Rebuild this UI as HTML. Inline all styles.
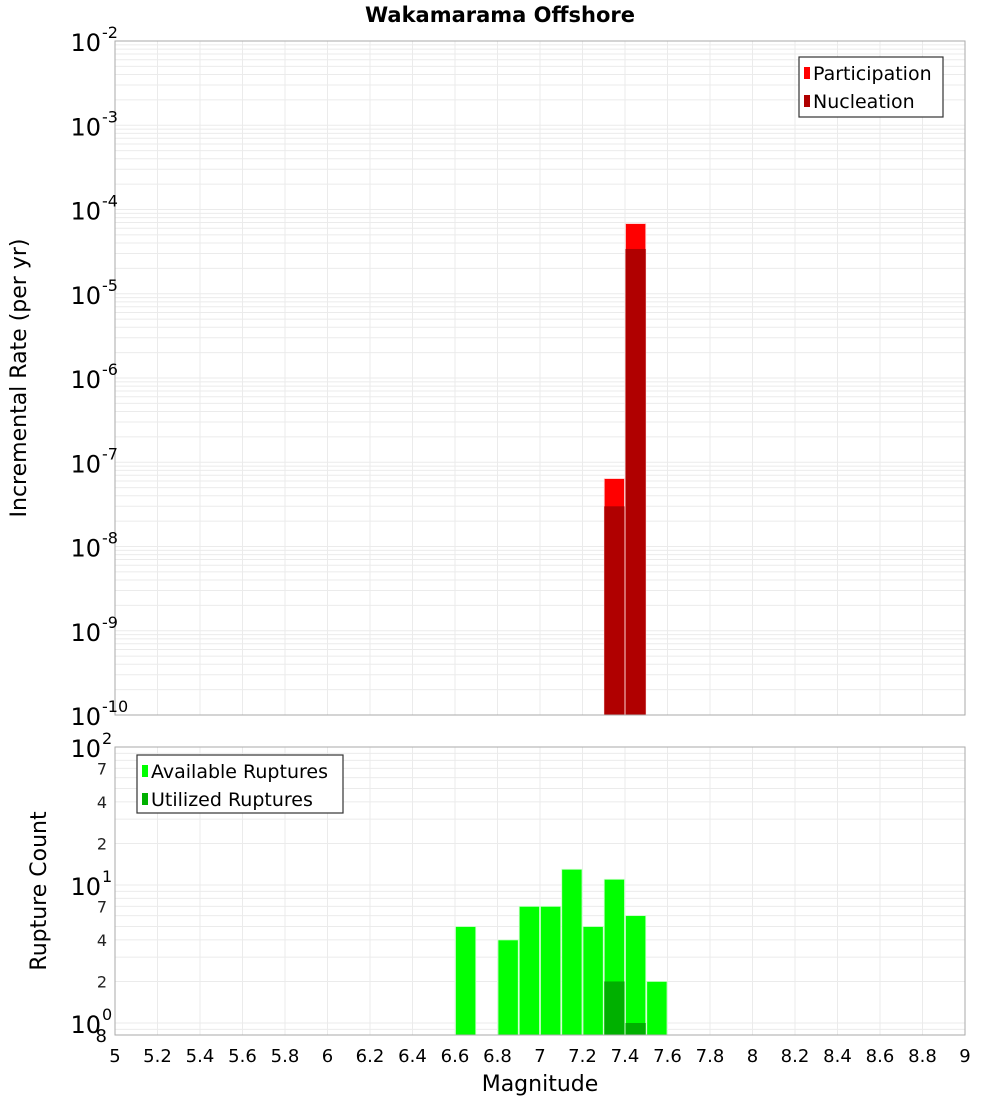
<!DOCTYPE html>
<html><head><meta charset="utf-8"><style>
body{margin:0;background:#fff;}
svg{display:block;font-family:"DejaVu Sans","Liberation Sans",sans-serif;}
</style></head><body>
<svg id="c" width="1000" height="1100" xmlns="http://www.w3.org/2000/svg"></svg>
<script>
// ---- data ----
const rateMags = [7.35, 7.45];
const participationRates = [6.4e-8, 6.8e-5];
const nucleationRates = [3.0e-8, 3.4e-5];
const countMags = [6.65, 6.85, 6.95, 7.05, 7.15, 7.25, 7.35, 7.45, 7.55];
const availableCounts = [5, 4, 7, 7, 13, 5, 11, 6, 2];
const utilizedMags = [7.35, 7.45];
const utilizedCounts = [2, 1];
const xTicks = [5,5.2,5.4,5.6,5.8,6,6.2,6.4,6.6,6.8,7,7.2,7.4,7.6,7.8,8,8.2,8.4,8.6,8.8,9];
const topExps = [-2,-3,-4,-5,-6,-7,-8,-9,-10];
const botMinor = [7,4,2];

const NS="http://www.w3.org/2000/svg";
const svg=document.getElementById('c');
function mk(tag,attrs,parent){const e=document.createElementNS(NS,tag);for(const k in attrs)e.setAttribute(k,attrs[k]);(parent||svg).appendChild(e);return e;}

const L=115,R=965;
const x=v=>L+(v-5)/(9-5)*(R-L);
const T1=41,B1=715;
const y1=v=>T1+(-2-Math.log10(v))/8*(B1-T1);
const T2=747,B2=1035,DEC=138;
const y2=v=>T2+(2-Math.log10(v))*DEC;

// title
let t=mk('text',{x:500,y:22,'text-anchor':'middle','font-size':21,'font-weight':'bold'});
t.textContent='Wakamarama Offshore';



// top plot grid
let g=mk('g',{});


for(let e=-10;e<-2;e++)for(let m=1;m<10;m++){const yy=y1(m*Math.pow(10,e));mk('line',{x1:L,x2:R,y1:yy,y2:yy,stroke:'#ebebeb','stroke-width':1},g);}
xTicks.forEach(v=>mk('line',{x1:x(v),x2:x(v),y1:T1,y2:B1,stroke:'#ebebeb'},g));
// bottom grid
let g2=mk('g',{});


for(let e=-1;e<2;e++)for(let m=1;m<10;m++){const yy=y2(m*Math.pow(10,e));if(yy<T2||yy>B2)continue;mk('line',{x1:L,x2:R,y1:yy,y2:yy,stroke:'#ebebeb'},g2);}
xTicks.forEach(v=>mk('line',{x1:x(v),x2:x(v),y1:T2,y2:B2,stroke:'#ebebeb'},g2));

// top bars
const bw=(x(0.1)-x(0));
rateMags.forEach((m,i)=>{
  let r=mk('rect',{x:x(m-0.05)+0.5,y:y1(participationRates[i]),width:bw-1,height:B1-y1(participationRates[i]),fill:'#ff0000',stroke:'#ffd0d0','stroke-width':0.8});
  
  
  let n=mk('rect',{x:x(m-0.05)+0.5,y:y1(nucleationRates[i]),width:bw-1,height:B1-y1(nucleationRates[i]),fill:'#b00000'});
  
  
});
// bottom bars
countMags.forEach((m,i)=>{
  let r=mk('rect',{x:x(m-0.05)+0.5,y:y2(availableCounts[i]),width:bw-1,height:B2-y2(availableCounts[i]),fill:'#00ff00',stroke:'#c8ffc8','stroke-width':0.8});
  
  
});
utilizedMags.forEach((m,i)=>{
  let r=mk('rect',{x:x(m-0.05)+0.5,y:y2(utilizedCounts[i]),width:bw-1,height:B2-y2(utilizedCounts[i]),fill:'#00b000'});
  
  
});

// frames
let f1=mk('rect',{x:L,y:T1,width:R-L,height:B1-T1,fill:'none',stroke:'#aaa'});


let f2=mk('rect',{x:L,y:T2,width:R-L,height:B2-T2,fill:'none',stroke:'#aaa'});



// top y ticks
topExps.forEach(e=>{
  const yy=y1(Math.pow(10,e));
  let tx=mk('text',{x:101,y:yy+10,'text-anchor':'end','font-size':24});
  tx.textContent='10';
  
  
  let s=mk('text',{x:102,y:yy-3,'font-size':16});
  s.textContent=String(e);
  
  
});
// bottom y ticks
[2,1,0].forEach(e=>{
  const yy=y2(Math.pow(10,e));
  let tx=mk('text',{x:101,y:yy+10,'text-anchor':'end','font-size':24});
  tx.textContent='10';
  
  
  let s=mk('text',{x:102,y:yy-3,'font-size':16});
  s.textContent=String(e);
  
  
});
[1,0].forEach(e=>botMinor.forEach(m=>{
  const yy=y2(m*Math.pow(10,e));
  let tx=mk('text',{x:107,y:yy+6,'text-anchor':'end','font-size':16,fill:'#222'});
  tx.textContent=String(m);
  
  
}));
let e8=mk('text',{x:107,y:B2+7,'text-anchor':'end','font-size':18});
e8.textContent='8';



// x ticks
xTicks.forEach(v=>{
  let tx=mk('text',{x:x(v),y:1062,'text-anchor':'middle','font-size':18});
  tx.textContent=String(v);
  
  
});
let xl=mk('text',{x:540,y:1091,'text-anchor':'middle','font-size':22});
xl.textContent='Magnitude';


let yl=mk('text',{x:0,y:0,'text-anchor':'middle','font-size':22,transform:'translate(26,378) rotate(-90)'});
yl.textContent='Incremental Rate (per yr)';


let yl2=mk('text',{x:0,y:0,'text-anchor':'middle','font-size':22,transform:'translate(46,891) rotate(-90)'});
yl2.textContent='Rupture Count';



// legends
function legend(bx,by,w,h,items,name){
  let lg=mk('g',{});
  
  
  mk('rect',{x:bx,y:by,width:w,height:h,fill:'#fff',stroke:'#333','stroke-width':1.2},lg);
  items.forEach((it,i)=>{
    const yy=by+16+i*28;
    mk('rect',{x:bx+5,y:yy-6,width:6,height:12,fill:it[1]},lg);
    let tx=mk('text',{x:bx+14,y:yy+7,'font-size':19},lg);
    tx.textContent=it[0];
    
    
  });
}
legend(799,57,144,60,[['Participation','#ff0000'],['Nucleation','#b00000']],'rate-legend');
legend(137,755,206,58,[['Available Ruptures','#00ff00'],['Utilized Ruptures','#00b000']],'count-legend');
</script>
</body></html>
